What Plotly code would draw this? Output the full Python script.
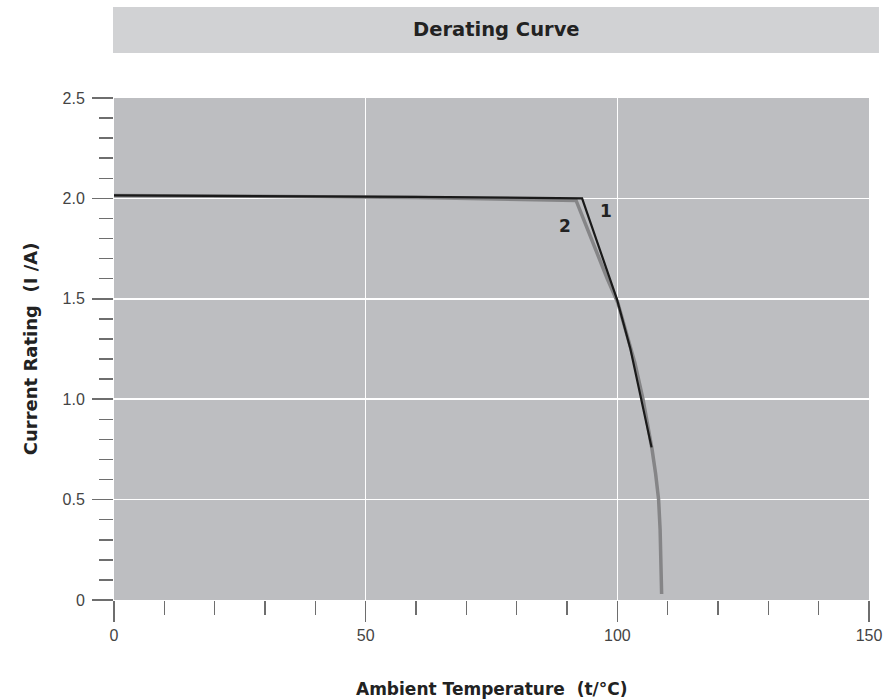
import plotly.graph_objects as go

# Curve 1 (black)
temp_1 = [0, 30, 60, 93.0, 96.5, 99.9, 102.6, 104.8, 106.0, 106.8]
current_1 = [2.015, 2.012, 2.008, 2.0, 1.75, 1.5, 1.25, 1.0, 0.86, 0.76]

# Curve 2 (gray)
temp_2 = [0, 30, 60, 91.8, 94.0, 96.0, 98.0, 100.1, 102.0, 103.5, 105.1, 106.1, 106.9,
          107.6, 108.2, 108.5, 108.7, 108.8]
current_2 = [2.015, 2.01, 2.005, 1.99, 1.85, 1.72, 1.6, 1.48, 1.32, 1.18, 1.0, 0.87, 0.75,
             0.63, 0.5, 0.35, 0.2, 0.03]

curve_labels = ["1", "2"]
label_x = [97.8, 89.6]
label_y = [1.937, 1.862]

y_tick_vals = [0, 0.5, 1.0, 1.5, 2.0, 2.5]
y_tick_text = ["0", "0.5", "1.0", "1.5", "2.0", "2.5"]
x_tick_vals = [0, 50, 100, 150]
x_tick_text = ["0", "50", "100", "150"]

title = "Derating Curve"
x_title = "Ambient Temperature  (t/°C)"
y_title = "Current Rating  (I /A)"

FONT = "Liberation Sans, Arial, Helvetica, sans-serif"
BOLD = "DejaVu Sans, Liberation Sans, sans-serif"

fig = go.Figure()
fig.add_trace(go.Scatter(x=temp_2, y=current_2, mode="lines",
                         line=dict(color="#858587", width=3.5),
                         showlegend=False, hoverinfo="skip"))
fig.add_trace(go.Scatter(x=temp_1, y=current_1, mode="lines",
                         line=dict(color="#1a1a1a", width=2.2),
                         showlegend=False, hoverinfo="skip"))

for t, lx, ly in zip(curve_labels, label_x, label_y):
    fig.add_annotation(x=lx, y=ly, xref="x", yref="y", text="<b>" + t + "</b>",
                       showarrow=False, xanchor="center", yanchor="middle",
                       font=dict(family=BOLD, size=17, color="#222222"))

# title bar
fig.add_shape(type="rect", xref="paper", yref="paper",
              x0=-0.0013, x1=1.0132, y0=1.0896, y1=1.1813,
              fillcolor="#d1d2d4", line=dict(width=0), layer="below")
fig.add_annotation(x=0.506, y=1.1355, xref="paper", yref="paper",
                   text="<b>" + title + "</b>", showarrow=False,
                   xanchor="center", yanchor="middle",
                   font=dict(family=BOLD, size=19.5, color="#222222"))
fig.add_annotation(x=0.5, y=-0.177, xref="paper", yref="paper",
                   text="<b>" + x_title + "</b>", showarrow=False,
                   xanchor="center", yanchor="middle",
                   font=dict(family=BOLD, size=17, color="#222222"))
fig.add_annotation(x=-0.111, y=0.5, xref="paper", yref="paper",
                   text="<b>" + y_title + "</b>", showarrow=False, textangle=-90,
                   xanchor="center", yanchor="middle",
                   font=dict(family=BOLD, size=18, color="#222222"))

axis_common = dict(
    showline=False, zeroline=False, showgrid=True, gridcolor="white", gridwidth=1.5,
    ticks="outside", ticklen=21, tickwidth=1.5, tickcolor="#6e6e6e", automargin=False,
    tickfont=dict(family=FONT, size=16, color="#444444"),
)

fig.update_xaxes(range=[0, 150], tickmode="array", tickvals=x_tick_vals, ticktext=x_tick_text,
                 minor=dict(dtick=10, tick0=0, ticklen=14, tickwidth=1.5, tickcolor="#6e6e6e",
                            ticks="outside", showgrid=False),
                 **axis_common)
fig.update_yaxes(range=[0, 2.5], tickmode="array", tickvals=y_tick_vals, ticktext=y_tick_text,
                 ticklabelstandoff=4,
                 minor=dict(dtick=0.1, tick0=0, ticklen=14, tickwidth=1.5, tickcolor="#6e6e6e",
                            ticks="outside", showgrid=False),
                 **axis_common)

fig.update_layout(
    width=885, height=700, autosize=False,
    margin=dict(l=114, r=16, t=98, b=100),
    plot_bgcolor="#bdbec1", paper_bgcolor="white",
    font=dict(family=FONT),
)

fig.write_html("out.html",
               config={"responsive": False, "displayModeBar": False, "staticPlot": True},
               post_script="document.body.style.margin='0';document.body.style.overflow='hidden';")
